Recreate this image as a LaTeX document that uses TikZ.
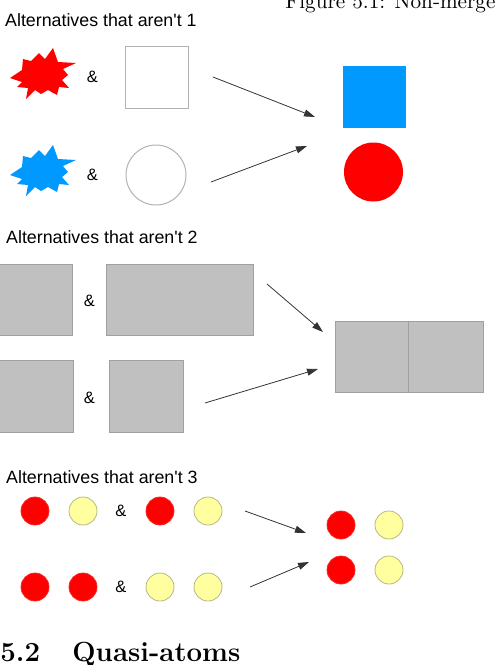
\documentclass[tikz,border=0pt]{standalone}
\usepackage{fontspec}
\newfontfamily\arialfont{Liberation Sans}
\usepackage{xcolor}
\usepackage{tikz}
\usetikzlibrary{positioning,arrows.meta}
\definecolor{skyblue}{RGB}{0,153,255}
\definecolor{boxgray}{RGB}{192,192,192}
\definecolor{edgegray}{RGB}{160,160,160}
\definecolor{paleyellow}{RGB}{255,255,160}
\definecolor{dotedge}{RGB}{185,185,125}
% spiky blob, #1 = centre, #2 = colour
\newcommand{\burst}[2]{%
  \fill[#2, shift={#1}] (-33,4) -- (-21,-4) -- (-20,-15) -- (-12,-13) -- (-4,-21)
    -- (2,-15) -- (10,-26) -- (15,-12) -- (33,-11) -- (20,-5) -- (25,1) -- (19,6)
    -- (26,14) -- (16,13) -- (14,21) -- (5,16) -- (-2,20) -- (-8,16) -- (-17,25)
    -- (-15,14) -- (-26,13) -- (-21,8) -- cycle;}

\begin{document}
\begin{tikzpicture}[x=1pt, y=-1pt,
  title/.style={font=\arialfont\fontsize{17.8}{20}\selectfont, anchor=base west, inner sep=0},
  amp/.style={font=\arialfont\fontsize{16.5}{18}\selectfont, inner sep=0},
  serif/.style={anchor=base west, inner sep=0},
  blank/.style={draw=black!30, fill=white, line width=1pt, inner sep=0, outer sep=0},
  gbox/.style={draw=edgegray, fill=boxgray, line width=1pt, inner sep=0, outer sep=0,
               minimum height=71pt},
  dot/.style={circle, minimum size=28pt, inner sep=0, outer sep=0, line width=0.8pt},
  rdot/.style={dot, fill=red, draw=red!85!white},
  ydot/.style={dot, fill=paleyellow, draw=dotedge},
  arr/.style={-{Triangle[length=11pt,width=7pt]}, draw=black!80, line width=0.8pt}]
\useasboundingbox (0,0) rectangle (495,665);
\clip (0,0) rectangle (495,665);
\node[serif, scale=2.12, font=\fontsize{10}{12}\selectfont] (cap) at (285,8) {Figure 5.1: Non-merge};

% first group
\node[title] (t1) at (5,26) {Alternatives that aren't 1};
\burst{(43,74)}{red}
\node[amp] (a1) at (92.5,77) {\&};
\node[blank, minimum width=63pt, minimum height=62pt] (sq) at (156.5,77) {};
\burst{(43,171)}{skyblue}
\node[amp] (a2) at (92.5,175) {\&};
\node[blank, circle, minimum size=60pt] (ring) at (156,175) {};
\node[fill=skyblue, inner sep=0, minimum width=63pt, minimum height=62pt] (bsq) at (374.5,97) {};
\node[circle, fill=red, inner sep=0, minimum size=59pt] (disc) at (373.5,172) {};
\coordinate (s1) at (213,77); \coordinate (e1) at (315,117);
\coordinate (s2) at (211,182); \coordinate (e2) at (307,146);
\draw[arr] (s1) -- (e1); \draw[arr] (s2) -- (e2);

% second group
\node[title] (t2) at (6,243) {Alternatives that aren't 2};
\node[gbox, minimum width=76pt] (g1) at (34,299.5) {};
\node[amp] (a3) at (89.5,301) {\&};
\node[gbox, minimum width=147pt] (g2) at (179.5,299.5) {};
\node[gbox, minimum width=77pt, minimum height=72pt] (g3) at (34.5,396) {};
\node[amp] (a4) at (89.5,398) {\&};
\node[gbox, minimum width=74pt, minimum height=72pt] (g4) at (146,396) {};
\node[gbox, minimum width=73pt] (m1) at (371.5,356.5) {};
\node[gbox, minimum width=75pt, right=0pt of m1] (m2) {};
\coordinate (s3) at (267,284); \coordinate (e3) at (323,332);
\coordinate (s4) at (205,403); \coordinate (e4) at (318,369);
\draw[arr] (s3) -- (e3); \draw[arr] (s4) -- (e4);

% third group
\node[title] (t3) at (6,483) {Alternatives that aren't 3};
\node[rdot] (p1) at (35,511) {};
\node[ydot, right=20pt of p1] (p2) {};
\node[amp] (a5) at (121,511) {\&};
\node[rdot] (p3) at (160,511) {};
\node[ydot, right=20pt of p3] (p4) {};
\node[rdot, below=48pt of p1] (q1) {};
\node[rdot, right=20pt of q1] (q2) {};
\node[amp] (a6) at (121,587) {\&};
\node[ydot, below=48pt of p3] (q3) {};
\node[ydot, right=20pt of q3] (q4) {};
\node[rdot] (u1) at (341,525) {};
\node[ydot, right=20pt of u1] (u2) {};
\node[rdot, below=17pt of u1] (u3) {};
\node[ydot, right=20pt of u3] (u4) {};
\coordinate (s5) at (245,511); \coordinate (e5) at (306,533);
\coordinate (s6) at (250,587); \coordinate (e6) at (309,562);
\draw[arr] (s5) -- (e5); \draw[arr] (s6) -- (e6);

\node[serif, scale=1.92, font=\fontsize{14.4}{17}\selectfont\bfseries] (num) at (0,661) {5.2};
\node[serif, scale=1.92, font=\fontsize{14.4}{17}\selectfont\bfseries] (sec) at (72,661) {Quasi-atoms};
\end{tikzpicture}
\end{document}
